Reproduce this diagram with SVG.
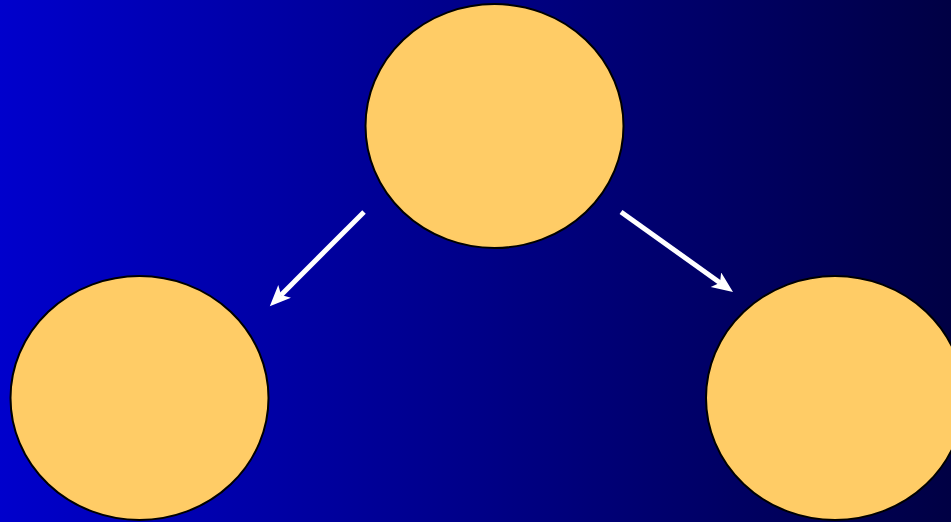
<svg xmlns="http://www.w3.org/2000/svg" width="951" height="522" viewBox="0 0 951 522">
  <defs>
    <linearGradient id="bg" x1="0" y1="0" x2="1" y2="0">
      <stop offset="0" stop-color="#0000CC"/>
      <stop offset="1" stop-color="#000044"/>
    </linearGradient>
    <marker id="ah" markerUnits="userSpaceOnUse" markerWidth="22" markerHeight="20" refX="5" refY="9" orient="auto" viewBox="0 0 22 20">
      <path d="M0,0 L21,9 L0,18 L5,9 Z" fill="#FFFFFF"/>
    </marker>
    <style>
      .node { fill: #FFCC66; stroke: #000000; stroke-width: 2; }
      .edge { stroke: #FFFFFF; stroke-width: 5; fill: none; marker-end: url(#ah); }
    </style>
  </defs>
  <rect x="0" y="0" width="951" height="522" fill="url(#bg)"/>
  <g id="connectors">
    <line class="edge" x1="364" y1="212" x2="281.1" y2="294.9"/>
    <line class="edge" x1="621" y1="212" x2="720.0" y2="282.7"/>
  </g>
  <g id="node-top">
    <ellipse class="node" cx="494.5" cy="126" rx="129" ry="122"/>
  </g>
  <g id="node-left">
    <ellipse class="node" cx="139.5" cy="398" rx="129" ry="122"/>
  </g>
  <g id="node-right">
    <ellipse class="node" cx="835" cy="398" rx="129" ry="122"/>
  </g>
</svg>
